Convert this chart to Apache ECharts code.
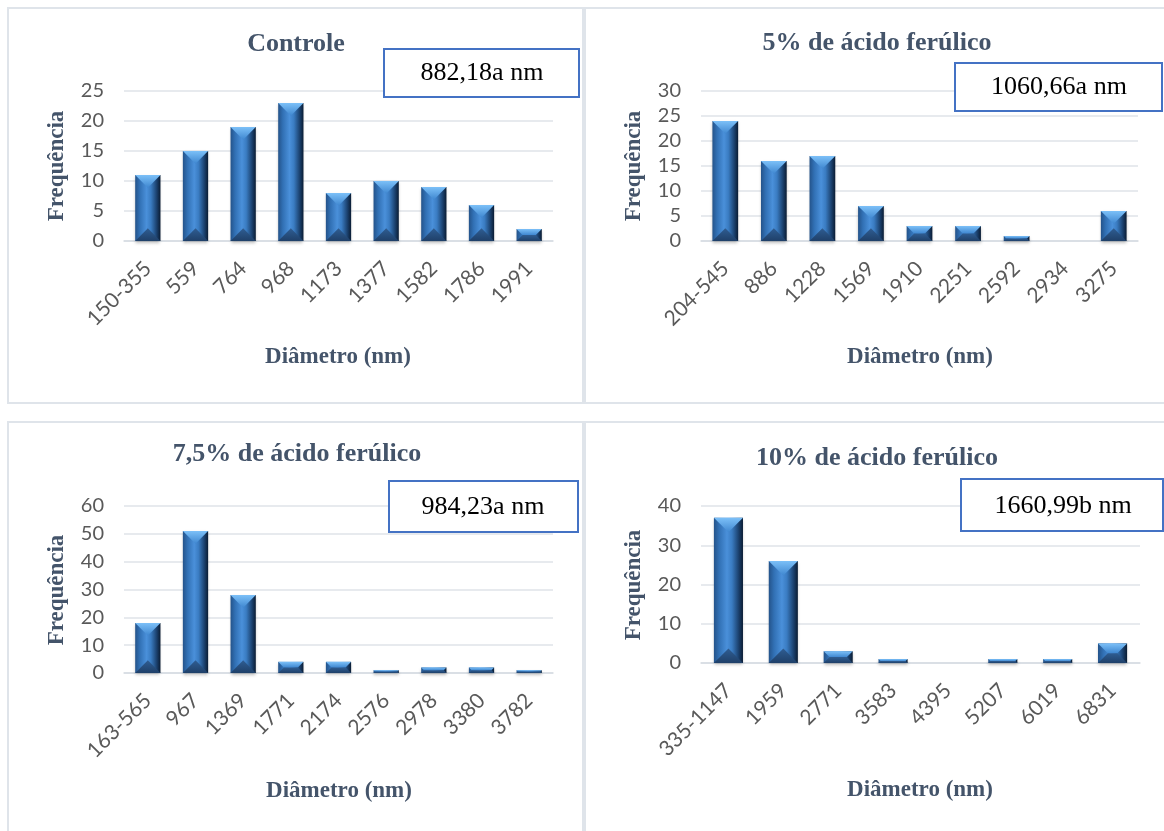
<!DOCTYPE html>
<html>
<head>
<meta charset="utf-8">
<script src="https://cdn.jsdelivr.net/npm/echarts@6/dist/echarts.min.js"></script>
<style>
  html, body { margin: 0; padding: 0; background: #ffffff; }
  #chart { width: 1164px; height: 831px; }
</style>
</head>
<body>
<div id="chart"></div>
<script>
// Size classes (nm) and counts for each treatment
const controleCats = ['150-355', '559', '764', '968', '1173', '1377', '1582', '1786', '1991'];
const controleFreq = [11, 15, 19, 23, 8, 10, 9, 6, 2];

const af5Cats = ['204-545', '886', '1228', '1569', '1910', '2251', '2592', '2934', '3275'];
const af5Freq = [24, 16, 17, 7, 3, 3, 1, 0, 6];

const af75Cats = ['163-565', '967', '1369', '1771', '2174', '2576', '2978', '3380', '3782'];
const af75Freq = [18, 51, 28, 4, 4, 1, 2, 2, 1];

const af10Cats = ['335-1147', '1959', '2771', '3583', '4395', '5207', '6019', '6831'];
const af10Freq = [37, 26, 3, 1, 0, 1, 1, 5];

const panelTitles = ['Controle', '5% de ácido ferúlico', '7,5% de ácido ferúlico', '10% de ácido ferúlico'];
const meanLabels = ['882,18a nm', '1060,66a nm', '984,23a nm', '1660,99b nm'];
const yMax = [25, 30, 60, 40];
const yStep = [5, 5, 10, 10];
const xAxisName = 'Diâmetro (nm)';
const yAxisName = 'Frequência';

const panelCats = [controleCats, af5Cats, af75Cats, af10Cats];
const panelFreq = [controleFreq, af5Freq, af75Freq, af10Freq];

// Page layout for the 2x2 panel grid
const layout = [
  { frame: [8, 8, 575, 395],   grid: { left: 124, top: 91,  width: 429, height: 150 },
    title: [296, 44],  box: [384, 49, 195, 48],  boxText: [482, 73],  yName: [57, 166],  xName: [338, 357] },
  { frame: [585, 8, 590, 395], grid: { left: 701, top: 91,  width: 437, height: 150 },
    title: [877, 43],  box: [955, 63, 207, 48],  boxText: [1059, 87], yName: [634, 166], xName: [920, 357] },
  { frame: [8, 422, 575, 420], grid: { left: 124, top: 506, width: 429, height: 167 },
    title: [297, 454], box: [389, 481, 189, 51], boxText: [483, 507], yName: [57, 590],  xName: [339, 791] },
  { frame: [585, 422, 590, 420], grid: { left: 701, top: 506, width: 439, height: 157 },
    title: [877, 458], box: [961, 479, 202, 52], boxText: [1063, 506], yName: [634, 585], xName: [920, 790] }
];

const TEXT_DARK = '#44546A';
const TICK_GREY = '#595959';
const GRID_LINE = '#dfe3e9';
const SERIF = '"Liberation Serif", "Times New Roman", serif';
const SANS = 'Lato, "Open Sans", sans-serif';

// Bevelled column: shaded body, light top facet, dark bottom facet
function bevelBar(params, api) {
  const v = api.value(1);
  if (!v) return null;
  const idx = api.value(0);
  const top = api.coord([idx, v]);
  const base = api.coord([idx, 0]);
  const w = api.size([1, 0])[0] * 0.53;
  const x0 = top[0] - w / 2, x1 = top[0] + w / 2;
  const y0 = top[1], y1 = base[1];
  const d = Math.min(w / 2, (y1 - y0) / 2);
  const G = echarts.graphic.LinearGradient;
  return {
    type: 'group',
    children: [
      {
        type: 'rect',
        shape: { x: x0, y: y0, width: w, height: y1 - y0 },
        style: {
          fill: new G(0, 0, 1, 0, [
            { offset: 0, color: '#24538a' },
            { offset: 0.18, color: '#3170b4' },
            { offset: 0.45, color: '#4a90da' },
            { offset: 0.62, color: '#3a7cc2' },
            { offset: 0.85, color: '#1b416e' },
            { offset: 1, color: '#0a1c33' }
          ]),
          shadowColor: 'rgba(0,0,0,0.25)',
          shadowBlur: 3,
          shadowOffsetY: 2
        }
      },
      {
        type: 'polygon',
        shape: { points: [[x0, y0], [x1, y0], [x1 - d, y0 + d], [x0 + d, y0 + d]] },
        style: {
          fill: new G(0, 0, 0, 1, [
            { offset: 0, color: '#7cc0f8' },
            { offset: 1, color: '#3f87d0' }
          ])
        }
      },
      {
        type: 'polygon',
        shape: { points: [[x0, y1], [x1, y1], [x1 - d, y1 - d], [x0 + d, y1 - d]] },
        style: {
          fill: new G(0, 0, 0, 1, [
            { offset: 0, color: '#2f5d92' },
            { offset: 1, color: '#1f4069' }
          ])
        }
      }
    ]
  };
}

const grids = [], xAxes = [], yAxes = [], series = [], graphics = [];

layout.forEach((p, i) => {
  grids.push(Object.assign({ containLabel: false }, p.grid));
  xAxes.push({
    type: 'category',
    gridIndex: i,
    data: panelCats[i],
    axisTick: { show: false },
    axisLine: { show: true, lineStyle: { color: '#d6dbe2', width: 1.5 } },
    axisLabel: {
      rotate: 45, interval: 0, margin: 24,
      color: TICK_GREY, fontFamily: SANS, fontSize: 21
    }
  });
  yAxes.push({
    type: 'value',
    gridIndex: i,
    min: 0, max: yMax[i], interval: yStep[i],
    axisLine: { show: false },
    axisTick: { show: false },
    axisLabel: { margin: 20, color: TICK_GREY, fontFamily: SANS, fontSize: 20 },
    splitLine: { lineStyle: { color: GRID_LINE, width: 1.5 } }
  });
  series.push({
    type: 'custom',
    xAxisIndex: i,
    yAxisIndex: i,
    renderItem: bevelBar,
    data: panelFreq[i].map((v, k) => [k, v]),
    z: 3
  });

  // panel frame
  graphics.push({
    type: 'rect', z: 0, silent: true,
    shape: { x: p.frame[0], y: p.frame[1], width: p.frame[2], height: p.frame[3] },
    style: { fill: 'none', stroke: '#dfe4ea', lineWidth: 2 }
  });
  // panel title
  graphics.push({
    type: 'text', z: 10, x: p.title[0], y: p.title[1],
    style: { text: panelTitles[i], font: 'bold 26px ' + SERIF, fill: TEXT_DARK, align: 'center', verticalAlign: 'middle' }
  });
  // mean diameter box
  graphics.push({
    type: 'rect', z: 10,
    shape: { x: p.box[0], y: p.box[1], width: p.box[2], height: p.box[3] },
    style: { fill: '#ffffff', stroke: '#4472C4', lineWidth: 2 }
  });
  graphics.push({
    type: 'text', z: 11, x: p.boxText[0], y: p.boxText[1],
    style: { text: meanLabels[i], font: '26px ' + SERIF, fill: '#000000', align: 'center', verticalAlign: 'middle' }
  });
  // axis names
  graphics.push({
    type: 'text', z: 10, x: p.yName[0], y: p.yName[1], rotation: Math.PI / 2,
    style: { text: yAxisName, font: 'bold 23px ' + SERIF, fill: TEXT_DARK, align: 'center', verticalAlign: 'middle' }
  });
  graphics.push({
    type: 'text', z: 10, x: p.xName[0], y: p.xName[1],
    style: { text: xAxisName, font: 'bold 23px ' + SERIF, fill: TEXT_DARK, align: 'center', verticalAlign: 'middle' }
  });
});

const chart = echarts.init(document.getElementById('chart'), null, { renderer: 'canvas' });
chart.setOption({
  animation: false,
  backgroundColor: '#ffffff',
  grid: grids,
  xAxis: xAxes,
  yAxis: yAxes,
  series: series,
  graphic: graphics
});
</script>
</body>
</html>
